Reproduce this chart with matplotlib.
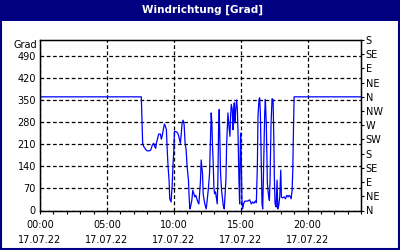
import numpy as np
import matplotlib
matplotlib.use("Agg")
import matplotlib.pyplot as plt
from matplotlib.patches import Rectangle
from matplotlib.ticker import MultipleLocator, FixedLocator, FuncFormatter

# ---- data (hours since 17.07.22 00:00, degrees) ----
TITLE = "Windrichtung [Grad]"
DATE_LABEL = "17.07.22"
hours = [
    0.00, 7.55, 7.575, 7.60, 7.65, 7.675, 7.75, 7.875, 8.0, 8.125, 8.25, 8.325,
    8.40, 8.50, 8.575, 8.65, 8.70, 8.80, 8.875, 9.0, 9.075, 9.125, 9.20, 9.30,
    9.375, 9.45, 9.50, 9.575, 9.65, 9.70, 9.80, 9.875, 9.95, 10.0, 10.05, 10.20,
    10.30, 10.375, 10.45, 10.50, 10.55, 10.625, 10.70, 10.775, 10.85, 10.925,
    11.0, 11.10, 11.15, 11.20, 11.275, 11.35, 11.425, 11.50, 11.575, 11.65,
    11.725, 11.80, 11.875, 11.925, 12.0, 12.05, 12.10, 12.15, 12.20, 12.275,
    12.35, 12.425, 12.50, 12.60, 12.675, 12.75, 12.80, 12.85, 12.90, 12.95,
    13.0, 13.05, 13.125, 13.20, 13.25, 13.30, 13.35, 13.40, 13.45, 13.50,
    13.575, 13.65, 13.70, 13.775, 13.825, 13.90, 13.95, 14.0, 14.05, 14.125,
    14.20, 14.25, 14.30, 14.375, 14.425, 14.475, 14.525, 14.575, 14.625, 14.70,
    14.75, 14.80, 14.875, 14.925, 14.975, 15.0, 15.05, 15.10, 15.15, 15.225,
    15.30, 15.425, 15.55, 15.675, 15.80, 15.90, 16.0, 16.10, 16.175, 16.25,
    16.30, 16.375, 16.425, 16.475, 16.55, 16.60, 16.65, 16.70, 16.75, 16.80,
    16.85, 16.925, 17.0, 17.075, 17.15, 17.20, 17.275, 17.35, 17.425, 17.475,
    17.525, 17.575, 17.65, 17.725, 17.775, 17.85, 17.925, 18.0, 18.05, 18.125,
    18.25, 18.35, 18.45, 18.55, 18.625, 18.70, 18.775, 18.85, 18.90, 18.95,
    19.0, 24.0,
]
direction = [
    360, 360, 360, 325, 251, 213, 203, 195, 189, 189, 190, 197,
    208, 213, 203, 197, 213, 229, 242, 242, 226, 235, 251, 274,
    267, 256, 203, 139, 96, 37, 27, 75, 149, 187, 251, 249,
    245, 235, 222, 213, 240, 277, 286, 272, 213, 192,
    139, 96, 43, 5, 16, 32, 64, 53, 43, 48,
    37, 27, 21, 48, 96, 160, 139, 117, 53, 32,
    16, 5, 32, 75, 117, 235, 309, 277, 203, 149,
    75, 53, 59, 37, 21, 96, 256, 320, 224, 117,
    64, 37, 16, 5, 43, 96, 203, 256, 309, 267,
    235, 299, 336, 320, 256, 309, 341, 277, 315, 350,
    325, 256, 96, 21, 203, 245, 160, 32, 5, 21,
    29, 30, 30, 34, 21, 27, 23, 30, 25, 139,
    299, 352, 357, 309, 139, 21, 5, 96, 203, 309,
    352, 267, 85, 53, 32, 96, 277, 354, 352, 245,
    96, 21, 11, 96, 5, 16, 43, 128, 43, 40,
    43, 37, 48, 43, 48, 45, 37, 64, 128, 256,
    360, 360,
]
left_ticks = [0, 70, 140, 210, 280, 350, 420, 490]
compass = ["N", "NE", "E", "SE", "S", "SW", "W", "NW",
           "N", "NE", "E", "SE", "S"]

NAVY = "#000080"
LINE = "#0000ff"
FS = 7

fig = plt.figure(figsize=(4, 2.5), dpi=100)
fig.patch.set_facecolor("white")

# title bar + frame
fig.patches.append(Rectangle((0, 0.918), 1, 0.082, transform=fig.transFigure,
                             facecolor=NAVY, edgecolor="none", zorder=0))
fig.patches.append(Rectangle((0.002, 0.003), 0.996, 0.994, transform=fig.transFigure,
                             facecolor="none", edgecolor=NAVY, linewidth=1.5, zorder=1))
fig.text(0.505, 0.959, TITLE, color="white", fontsize=7.5, fontweight="bold",
         ha="center", va="center")

ax = fig.add_axes([0.1, 0.158, 0.8025, 0.682])
ax.plot(hours, direction, color=LINE, linewidth=0.9)
ax.set_xlim(0, 24)
ax.set_ylim(0, 540)

ax.yaxis.set_major_locator(FixedLocator(left_ticks))
ax.tick_params(axis="y", which="major", length=0, pad=3, labelsize=FS)
ax.xaxis.set_major_locator(MultipleLocator(5))
ax.xaxis.set_minor_locator(MultipleLocator(1))
ax.xaxis.set_major_formatter(FuncFormatter(
    lambda v, p: f"{int(v):02d}:00\n{DATE_LABEL}"))
ax.tick_params(axis="x", which="both", direction="out", length=2.5, width=0.8,
               labelsize=FS, pad=4)
for lbl in ax.get_xticklabels():
    lbl.set_linespacing(1.65)

ax.grid(True, which="major", color="black", linestyle=(0, (3, 2)), linewidth=0.9)
for s in ax.spines.values():
    s.set_linewidth(1.0)
    s.set_color("black")

# compass scale on the right
ax2 = ax.twinx()
ax2.set_ylim(0, 540)
ax2.yaxis.set_major_locator(FixedLocator(np.arange(0, 541, 45)))
ax2.set_yticklabels(compass)
ax2.tick_params(axis="y", direction="out", length=2.5, width=0.8, labelsize=FS, pad=1)

fig.text(0.093, 0.82, "Grad", fontsize=FS, ha="right", va="center")

fig.savefig("out.png", dpi=100)
